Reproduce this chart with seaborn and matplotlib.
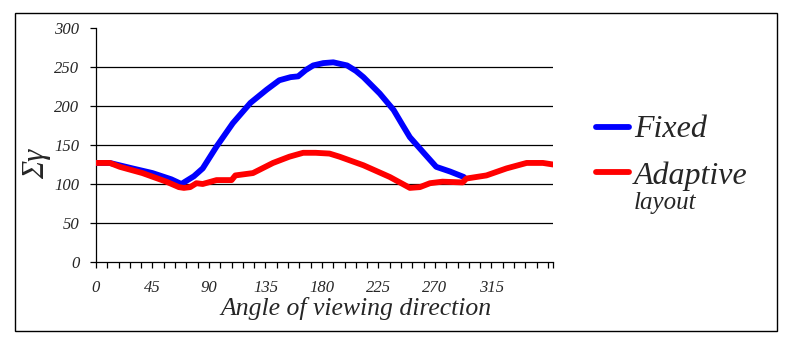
import numpy as np
import pandas as pd
import matplotlib
matplotlib.use("Agg")
import matplotlib.pyplot as plt
from matplotlib.lines import Line2D
from matplotlib.patches import Rectangle
import seaborn as sns

# ---- data ----
blue_angle = [0, 11, 29, 45, 60, 68, 78, 85, 96, 109, 123, 136, 146, 155, 161,
              167, 173, 181, 189, 200, 207, 213, 226, 237, 244, 250, 261, 271, 282, 293]
blue_val = [127, 127, 120, 114, 106, 100, 110, 120, 148, 178, 204, 221, 233, 237, 238,
            246, 252, 255, 256, 252, 245, 237, 216, 195, 176, 160, 140, 122, 116, 109]

red_angle = [0, 11, 19, 37, 56, 66, 70, 75, 80, 85, 96, 108, 111, 125, 141, 154,
             165, 175, 186, 194, 213, 234, 250, 258, 266, 276, 292, 295, 311, 327,
             343, 356, 364]
red_val = [127, 127, 122, 114, 103, 96, 95, 96, 101, 100, 105, 105, 111, 114, 127, 135,
           140, 140, 139, 135, 124, 109, 95, 96, 101, 103, 102, 107, 111, 120,
           127, 127, 125]

series_names = ["Fixed", "Adaptive"]
series_colors = ["#0000FF", "#FF0000"]
x_tick_labels = [0, 45, 90, 135, 180, 225, 270, 315]
y_ticks = [0, 50, 100, 150, 200, 250, 300]
grid_vals = [50, 100, 150, 200, 250]

df = pd.concat([
    pd.DataFrame({"angle": blue_angle, "value": blue_val, "series": series_names[0]}),
    pd.DataFrame({"angle": red_angle, "value": red_val, "series": series_names[1]}),
], ignore_index=True)

sns.set_style("white")
plt.rcParams["font.family"] = ["Liberation Serif", "DejaVu Serif"]
plt.rcParams["font.style"] = "italic"

W, H = 790, 347
fig = plt.figure(figsize=(W / 100, H / 100), dpi=100)
ax = fig.add_axes([96 / W, 1 - 262 / H, (553 - 96) / W, (262 - 28) / H])

for g in grid_vals:
    ax.axhline(g, color="black", lw=0.9, zorder=1)

sns.lineplot(data=df, x="angle", y="value", hue="series",
             palette=dict(zip(series_names, series_colors)),
             sort=False, estimator=None, legend=False, lw=4.2, ax=ax, zorder=3)

ax.set_xlim(0, 364)
ax.set_ylim(0, 300)
ax.set_xticks(x_tick_labels)
ax.set_xticklabels([str(v) for v in x_tick_labels], fontsize=12, style="italic")
ax.set_xticks(list(np.arange(0, 361, 9)) + [364], minor=True)
ax.set_yticks(y_ticks)
ax.set_yticklabels([str(v) for v in y_ticks], fontsize=12, style="italic")
ax.tick_params(axis="x", which="both", direction="out", length=4, width=0.9,
               color="black", pad=9, bottom=True)
ax.tick_params(axis="y", direction="out", length=4, width=0.9, color="black",
               pad=8, left=True)
for s in ["top", "right"]:
    ax.spines[s].set_visible(False)
for s in ["left", "bottom"]:
    ax.spines[s].set_color("black")
    ax.spines[s].set_linewidth(0.9)
ax.set_xlabel("")
ax.set_ylabel("")

fig.text(356 / W, 1 - 308 / H, "Angle of viewing direction", fontsize=18.5,
         style="italic", ha="center", va="center")
fig.text(37 / W, 1 - 164 / H, "Σγ", fontsize=22, style="italic",
         rotation=90, ha="center", va="center")

# legend drawn manually
fig.add_artist(Line2D([596 / W, 629 / W], [1 - 127 / H, 1 - 127 / H],
                      color=series_colors[0], lw=4.2, transform=fig.transFigure))
fig.add_artist(Line2D([596 / W, 629 / W], [1 - 172 / H, 1 - 172 / H],
                      color=series_colors[1], lw=4.2, transform=fig.transFigure))
fig.text(634 / W, 1 - 129 / H, "Fixed", fontsize=23, style="italic", va="center")
fig.text(634 / W, 1 - 176 / H, "Adaptive", fontsize=23, style="italic", va="center")
fig.text(634 / W, 1 - 203 / H, "layout", fontsize=18, style="italic", va="center")

fig.add_artist(Rectangle((15 / W, 1 - 331 / H), (777 - 15) / W, (331 - 13) / H,
                         fill=False, edgecolor="black", lw=1.0,
                         transform=fig.transFigure))

fig.savefig("out.png", dpi=100)
